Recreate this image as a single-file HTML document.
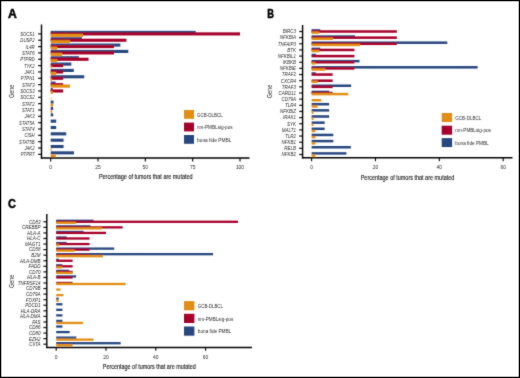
<!DOCTYPE html>
<html><head><meta charset="utf-8"><style>html,body{margin:0;padding:0;background:#fff;}svg{display:block;}text{font-family:"Liberation Sans",sans-serif;}</style></head><body>
<svg width="520" height="378" viewBox="0 0 520 378" font-family="Liberation Sans, sans-serif">
<defs><filter id="sb" x="0" y="0" width="520" height="378" filterUnits="userSpaceOnUse"><feConvolveMatrix order="3" kernelMatrix="1 3 1 3 24 3 1 3 1" preserveAlpha="false" edgeMode="duplicate"/></filter></defs>
<rect x="0" y="0" width="520" height="378" fill="#fff"/>
<g filter="url(#sb)">
<style>text{stroke:#2a2a2a;stroke-width:0px;}</style>
<rect x="50.7" y="30.85" width="145" height="3.1" fill="#27467F"/>
<rect x="50.7" y="32.35" width="189.3" height="3.1" fill="#A6062C"/>
<rect x="50.7" y="33.85" width="32.18" height="3.1" fill="#E28E14"/>
<line x1="38.1" y1="33.9" x2="41.5" y2="33.9" stroke="#1a1a1a" stroke-width="1.25"/>
<text x="34.6" y="35.84" font-size="5.4" font-style="italic" text-anchor="end" textLength="14.46" lengthAdjust="spacingAndGlyphs" fill="#2a2a2a">SOCS1</text>
<rect x="50.7" y="37.19" width="31.23" height="3.1" fill="#27467F"/>
<rect x="50.7" y="38.69" width="75.72" height="3.1" fill="#A6062C"/>
<rect x="50.7" y="40.19" width="19.31" height="3.1" fill="#E28E14"/>
<line x1="38.1" y1="40.24" x2="41.5" y2="40.24" stroke="#1a1a1a" stroke-width="1.25"/>
<text x="34.6" y="42.18" font-size="5.4" font-style="italic" text-anchor="end" textLength="14.23" lengthAdjust="spacingAndGlyphs" fill="#2a2a2a">DUSP2</text>
<rect x="50.7" y="43.53" width="69.66" height="3.1" fill="#27467F"/>
<rect x="50.7" y="45.03" width="63.23" height="3.1" fill="#A6062C"/>
<rect x="50.7" y="46.53" width="6.63" height="3.1" fill="#E28E14"/>
<line x1="38.1" y1="46.58" x2="41.5" y2="46.58" stroke="#1a1a1a" stroke-width="1.25"/>
<text x="34.6" y="48.52" font-size="5.4" font-style="italic" text-anchor="end" textLength="9.01" lengthAdjust="spacingAndGlyphs" fill="#2a2a2a">IL4R</text>
<rect x="50.7" y="49.87" width="77.61" height="3.1" fill="#27467F"/>
<rect x="50.7" y="51.37" width="63.23" height="3.1" fill="#A6062C"/>
<rect x="50.7" y="52.87" width="11.36" height="3.1" fill="#E28E14"/>
<line x1="38.1" y1="52.92" x2="41.5" y2="52.92" stroke="#1a1a1a" stroke-width="1.25"/>
<text x="34.6" y="54.86" font-size="5.4" font-style="italic" text-anchor="end" textLength="12.64" lengthAdjust="spacingAndGlyphs" fill="#2a2a2a">STAT6</text>
<rect x="50.7" y="56.21" width="28.21" height="3.1" fill="#27467F"/>
<rect x="50.7" y="57.71" width="37.86" height="3.1" fill="#A6062C"/>
<rect x="50.7" y="59.21" width="6.63" height="3.1" fill="#E28E14"/>
<line x1="38.1" y1="59.26" x2="41.5" y2="59.26" stroke="#1a1a1a" stroke-width="1.25"/>
<text x="34.6" y="61.2" font-size="5.4" font-style="italic" text-anchor="end" textLength="14.46" lengthAdjust="spacingAndGlyphs" fill="#2a2a2a">PTPRD</text>
<rect x="50.7" y="62.55" width="20.63" height="3.1" fill="#27467F"/>
<rect x="50.7" y="64.05" width="12.49" height="3.1" fill="#A6062C"/>
<rect x="50.7" y="65.55" width="1.14" height="3.1" fill="#E28E14"/>
<line x1="38.1" y1="65.6" x2="41.5" y2="65.6" stroke="#1a1a1a" stroke-width="1.25"/>
<text x="34.6" y="67.54" font-size="5.4" font-style="italic" text-anchor="end" textLength="10.67" lengthAdjust="spacingAndGlyphs" fill="#2a2a2a">TYK2</text>
<rect x="50.7" y="68.89" width="23.09" height="3.1" fill="#27467F"/>
<rect x="50.7" y="70.39" width="12.49" height="3.1" fill="#A6062C"/>
<rect x="50.7" y="71.89" width="5.49" height="3.1" fill="#E28E14"/>
<line x1="38.1" y1="71.94" x2="41.5" y2="71.94" stroke="#1a1a1a" stroke-width="1.25"/>
<text x="34.6" y="73.88" font-size="5.4" font-style="italic" text-anchor="end" textLength="10.2" lengthAdjust="spacingAndGlyphs" fill="#2a2a2a">JAK1</text>
<rect x="50.7" y="75.23" width="33.51" height="3.1" fill="#27467F"/>
<rect x="50.7" y="76.73" width="12.49" height="3.1" fill="#A6062C"/>
<rect x="50.7" y="78.23" width="1.14" height="3.1" fill="#E28E14"/>
<line x1="38.1" y1="78.28" x2="41.5" y2="78.28" stroke="#1a1a1a" stroke-width="1.25"/>
<text x="34.6" y="80.22" font-size="5.4" font-style="italic" text-anchor="end" textLength="13.75" lengthAdjust="spacingAndGlyphs" fill="#2a2a2a">PTPN1</text>
<rect x="50.7" y="81.57" width="4.92" height="3.1" fill="#27467F"/>
<rect x="50.7" y="83.07" width="12.49" height="3.1" fill="#A6062C"/>
<rect x="50.7" y="84.57" width="19.31" height="3.1" fill="#E28E14"/>
<line x1="38.1" y1="84.62" x2="41.5" y2="84.62" stroke="#1a1a1a" stroke-width="1.25"/>
<text x="34.6" y="86.56" font-size="5.4" font-style="italic" text-anchor="end" textLength="12.64" lengthAdjust="spacingAndGlyphs" fill="#2a2a2a">STAT3</text>
<rect x="50.7" y="87.91" width="2.08" height="3.1" fill="#27467F"/>
<rect x="50.7" y="89.41" width="12.49" height="3.1" fill="#A6062C"/>
<rect x="50.7" y="90.91" width="2.08" height="3.1" fill="#E28E14"/>
<line x1="38.1" y1="90.96" x2="41.5" y2="90.96" stroke="#1a1a1a" stroke-width="1.25"/>
<text x="34.6" y="92.9" font-size="5.4" font-style="italic" text-anchor="end" textLength="14.46" lengthAdjust="spacingAndGlyphs" fill="#2a2a2a">SOCS3</text>
<rect x="50.7" y="97.25" width="0.57" height="3.1" fill="#E28E14"/>
<line x1="38.1" y1="97.3" x2="41.5" y2="97.3" stroke="#1a1a1a" stroke-width="1.25"/>
<text x="34.6" y="99.24" font-size="5.4" font-style="italic" text-anchor="end" textLength="14.46" lengthAdjust="spacingAndGlyphs" fill="#2a2a2a">SOCS2</text>
<rect x="50.7" y="100.59" width="2.84" height="3.1" fill="#27467F"/>
<rect x="50.7" y="103.59" width="2.46" height="3.1" fill="#E28E14"/>
<line x1="38.1" y1="103.64" x2="41.5" y2="103.64" stroke="#1a1a1a" stroke-width="1.25"/>
<text x="34.6" y="105.58" font-size="5.4" font-style="italic" text-anchor="end" textLength="12.64" lengthAdjust="spacingAndGlyphs" fill="#2a2a2a">STAT2</text>
<rect x="50.7" y="106.93" width="2.46" height="3.1" fill="#27467F"/>
<rect x="50.7" y="109.93" width="1.33" height="3.1" fill="#E28E14"/>
<line x1="38.1" y1="109.98" x2="41.5" y2="109.98" stroke="#1a1a1a" stroke-width="1.25"/>
<text x="34.6" y="111.92" font-size="5.4" font-style="italic" text-anchor="end" textLength="12.64" lengthAdjust="spacingAndGlyphs" fill="#2a2a2a">STAT1</text>
<rect x="50.7" y="113.27" width="2.46" height="3.1" fill="#27467F"/>
<line x1="38.1" y1="116.32" x2="41.5" y2="116.32" stroke="#1a1a1a" stroke-width="1.25"/>
<text x="34.6" y="118.26" font-size="5.4" font-style="italic" text-anchor="end" textLength="10.2" lengthAdjust="spacingAndGlyphs" fill="#2a2a2a">JAK3</text>
<rect x="50.7" y="119.61" width="5.49" height="3.1" fill="#27467F"/>
<line x1="38.1" y1="122.66" x2="41.5" y2="122.66" stroke="#1a1a1a" stroke-width="1.25"/>
<text x="34.6" y="124.6" font-size="5.4" font-style="italic" text-anchor="end" textLength="15.49" lengthAdjust="spacingAndGlyphs" fill="#2a2a2a">STAT5A</text>
<rect x="50.7" y="125.95" width="5.49" height="3.1" fill="#27467F"/>
<line x1="38.1" y1="129" x2="41.5" y2="129" stroke="#1a1a1a" stroke-width="1.25"/>
<text x="34.6" y="130.94" font-size="5.4" font-style="italic" text-anchor="end" textLength="12.64" lengthAdjust="spacingAndGlyphs" fill="#2a2a2a">STAT4</text>
<rect x="50.7" y="132.29" width="15.52" height="3.1" fill="#27467F"/>
<line x1="38.1" y1="135.34" x2="41.5" y2="135.34" stroke="#1a1a1a" stroke-width="1.25"/>
<text x="34.6" y="137.28" font-size="5.4" font-style="italic" text-anchor="end" textLength="10.19" lengthAdjust="spacingAndGlyphs" fill="#2a2a2a">CISH</text>
<rect x="50.7" y="138.63" width="12.87" height="3.1" fill="#27467F"/>
<line x1="38.1" y1="141.68" x2="41.5" y2="141.68" stroke="#1a1a1a" stroke-width="1.25"/>
<text x="34.6" y="143.62" font-size="5.4" font-style="italic" text-anchor="end" textLength="15.49" lengthAdjust="spacingAndGlyphs" fill="#2a2a2a">STAT5B</text>
<rect x="50.7" y="144.97" width="12.87" height="3.1" fill="#27467F"/>
<rect x="50.7" y="147.97" width="0.95" height="3.1" fill="#E28E14"/>
<line x1="38.1" y1="148.02" x2="41.5" y2="148.02" stroke="#1a1a1a" stroke-width="1.25"/>
<text x="34.6" y="149.96" font-size="5.4" font-style="italic" text-anchor="end" textLength="10.2" lengthAdjust="spacingAndGlyphs" fill="#2a2a2a">JAK2</text>
<rect x="50.7" y="151.31" width="23.28" height="3.1" fill="#27467F"/>
<rect x="50.7" y="154.31" width="4.92" height="3.1" fill="#E28E14"/>
<line x1="38.1" y1="154.36" x2="41.5" y2="154.36" stroke="#1a1a1a" stroke-width="1.25"/>
<text x="34.6" y="156.3" font-size="5.4" font-style="italic" text-anchor="end" textLength="13.91" lengthAdjust="spacingAndGlyphs" fill="#2a2a2a">PTPRT</text>
<line x1="41.5" y1="24.5" x2="41.5" y2="158.6" stroke="#000" stroke-width="1.4"/>
<line x1="40.8" y1="158" x2="249.5" y2="158" stroke="#000" stroke-width="1.5"/>
<line x1="50.7" y1="158" x2="50.7" y2="161.4" stroke="#000" stroke-width="1.1"/>
<text x="50.7" y="169" font-size="5.5" text-anchor="middle" textLength="2.75" lengthAdjust="spacingAndGlyphs" fill="#2a2a2a">0</text>
<line x1="98.03" y1="158" x2="98.03" y2="161.4" stroke="#000" stroke-width="1.1"/>
<text x="98.03" y="169" font-size="5.5" text-anchor="middle" textLength="5.49" lengthAdjust="spacingAndGlyphs" fill="#2a2a2a">25</text>
<line x1="145.35" y1="158" x2="145.35" y2="161.4" stroke="#000" stroke-width="1.1"/>
<text x="145.35" y="169" font-size="5.5" text-anchor="middle" textLength="5.49" lengthAdjust="spacingAndGlyphs" fill="#2a2a2a">50</text>
<line x1="192.68" y1="158" x2="192.68" y2="161.4" stroke="#000" stroke-width="1.1"/>
<text x="192.68" y="169" font-size="5.5" text-anchor="middle" textLength="5.49" lengthAdjust="spacingAndGlyphs" fill="#2a2a2a">75</text>
<line x1="240" y1="158" x2="240" y2="161.4" stroke="#000" stroke-width="1.1"/>
<text x="240" y="169" font-size="5.5" text-anchor="middle" textLength="8.24" lengthAdjust="spacingAndGlyphs" fill="#2a2a2a">100</text>
<text x="98.9" y="179" font-size="7.2" textLength="93.7" lengthAdjust="spacingAndGlyphs" fill="#222" style="stroke:#222;stroke-width:0.15px">Percentage of tumors that are mutated</text>
<text transform="translate(13.8,91.3) rotate(-90)" font-size="7.6" text-anchor="middle" textLength="13.3" lengthAdjust="spacingAndGlyphs" fill="#2a2a2a">Gene</text>
<rect x="184" y="110" width="10" height="8.8" fill="#E28E14"/>
<text x="197" y="116.5" font-size="6.0" textLength="25.7" lengthAdjust="spacingAndGlyphs" fill="#2a2a2a">GCB-DLBCL</text>
<rect x="184" y="122.6" width="10" height="8.8" fill="#A6062C"/>
<text x="197" y="129.1" font-size="6.0" textLength="35.6" lengthAdjust="spacingAndGlyphs" fill="#2a2a2a">nm-PMBLsig-pos</text>
<rect x="184" y="135" width="10" height="8.8" fill="#27467F"/>
<text x="197" y="141.5" font-size="6.0" textLength="34.4" lengthAdjust="spacingAndGlyphs" fill="#2a2a2a">bona fide PMBL</text>
<text x="8.05" y="17.9" font-size="12.3" font-weight="bold" fill="#000" textLength="8.8" lengthAdjust="spacingAndGlyphs" style="stroke:#000;stroke-width:0.5px">A</text>
<rect x="311.6" y="29.15" width="8.62" height="2.5" fill="#27467F"/>
<rect x="311.6" y="30.25" width="85.25" height="2.5" fill="#A6062C"/>
<rect x="311.6" y="31.35" width="7.66" height="2.5" fill="#E28E14"/>
<line x1="299.2" y1="31.5" x2="302.6" y2="31.5" stroke="#1a1a1a" stroke-width="1.25"/>
<text x="296" y="33.3" font-size="5.0" font-style="italic" text-anchor="end" textLength="13.25" lengthAdjust="spacingAndGlyphs" fill="#2a2a2a">BIRC3</text>
<rect x="311.6" y="35.3" width="43.42" height="2.5" fill="#27467F"/>
<rect x="311.6" y="36.4" width="85.25" height="2.5" fill="#A6062C"/>
<rect x="311.6" y="37.5" width="21.39" height="2.5" fill="#E28E14"/>
<line x1="299.2" y1="37.65" x2="302.6" y2="37.65" stroke="#1a1a1a" stroke-width="1.25"/>
<text x="296" y="39.45" font-size="5.0" font-style="italic" text-anchor="end" textLength="16.25" lengthAdjust="spacingAndGlyphs" fill="#2a2a2a">NFKBIA</text>
<rect x="311.6" y="41.45" width="135.7" height="2.5" fill="#27467F"/>
<rect x="311.6" y="42.55" width="85.25" height="2.5" fill="#A6062C"/>
<rect x="311.6" y="43.65" width="48.53" height="2.5" fill="#E28E14"/>
<line x1="299.2" y1="43.8" x2="302.6" y2="43.8" stroke="#1a1a1a" stroke-width="1.25"/>
<text x="296" y="45.6" font-size="5.0" font-style="italic" text-anchor="end" textLength="18.17" lengthAdjust="spacingAndGlyphs" fill="#2a2a2a">TNFAIP3</text>
<rect x="311.6" y="47.6" width="8.62" height="2.5" fill="#27467F"/>
<rect x="311.6" y="48.7" width="42.79" height="2.5" fill="#A6062C"/>
<rect x="311.6" y="49.8" width="7.66" height="2.5" fill="#E28E14"/>
<line x1="299.2" y1="49.95" x2="302.6" y2="49.95" stroke="#1a1a1a" stroke-width="1.25"/>
<text x="296" y="51.75" font-size="5.0" font-style="italic" text-anchor="end" textLength="8.75" lengthAdjust="spacingAndGlyphs" fill="#2a2a2a">BTK</text>
<rect x="311.6" y="53.75" width="4.47" height="2.5" fill="#27467F"/>
<rect x="311.6" y="54.85" width="42.79" height="2.5" fill="#A6062C"/>
<line x1="299.2" y1="56.1" x2="302.6" y2="56.1" stroke="#1a1a1a" stroke-width="1.25"/>
<text x="296" y="57.9" font-size="5.0" font-style="italic" text-anchor="end" textLength="18.26" lengthAdjust="spacingAndGlyphs" fill="#2a2a2a">NFKBIL1</text>
<rect x="311.6" y="59.9" width="47.9" height="2.5" fill="#27467F"/>
<rect x="311.6" y="61" width="42.79" height="2.5" fill="#A6062C"/>
<rect x="311.6" y="62.1" width="3.83" height="2.5" fill="#E28E14"/>
<line x1="299.2" y1="62.25" x2="302.6" y2="62.25" stroke="#1a1a1a" stroke-width="1.25"/>
<text x="296" y="64.05" font-size="5.0" font-style="italic" text-anchor="end" textLength="13.26" lengthAdjust="spacingAndGlyphs" fill="#2a2a2a">IKBKB</text>
<rect x="311.6" y="66.05" width="166.04" height="2.5" fill="#27467F"/>
<rect x="311.6" y="67.15" width="42.79" height="2.5" fill="#A6062C"/>
<rect x="311.6" y="68.25" width="13.73" height="2.5" fill="#E28E14"/>
<line x1="299.2" y1="68.4" x2="302.6" y2="68.4" stroke="#1a1a1a" stroke-width="1.25"/>
<text x="296" y="70.2" font-size="5.0" font-style="italic" text-anchor="end" textLength="16.25" lengthAdjust="spacingAndGlyphs" fill="#2a2a2a">NFKBIE</text>
<rect x="311.6" y="72.2" width="4.15" height="2.5" fill="#27467F"/>
<rect x="311.6" y="73.3" width="21.07" height="2.5" fill="#A6062C"/>
<line x1="299.2" y1="74.55" x2="302.6" y2="74.55" stroke="#1a1a1a" stroke-width="1.25"/>
<text x="296" y="76.35" font-size="5.0" font-style="italic" text-anchor="end" textLength="14.25" lengthAdjust="spacingAndGlyphs" fill="#2a2a2a">TRAF2</text>
<rect x="311.6" y="79.45" width="21.07" height="2.5" fill="#A6062C"/>
<rect x="311.6" y="80.55" width="6.07" height="2.5" fill="#E28E14"/>
<line x1="299.2" y1="80.7" x2="302.6" y2="80.7" stroke="#1a1a1a" stroke-width="1.25"/>
<text x="296" y="82.5" font-size="5.0" font-style="italic" text-anchor="end" textLength="15.25" lengthAdjust="spacingAndGlyphs" fill="#2a2a2a">CXCR4</text>
<rect x="311.6" y="84.5" width="39.59" height="2.5" fill="#27467F"/>
<rect x="311.6" y="85.6" width="21.07" height="2.5" fill="#A6062C"/>
<line x1="299.2" y1="86.85" x2="302.6" y2="86.85" stroke="#1a1a1a" stroke-width="1.25"/>
<text x="296" y="88.65" font-size="5.0" font-style="italic" text-anchor="end" textLength="14.25" lengthAdjust="spacingAndGlyphs" fill="#2a2a2a">TRAF3</text>
<rect x="311.6" y="90.65" width="17.56" height="2.5" fill="#27467F"/>
<rect x="311.6" y="91.75" width="21.07" height="2.5" fill="#A6062C"/>
<rect x="311.6" y="92.85" width="36.72" height="2.5" fill="#E28E14"/>
<line x1="299.2" y1="93" x2="302.6" y2="93" stroke="#1a1a1a" stroke-width="1.25"/>
<text x="296" y="94.8" font-size="5.0" font-style="italic" text-anchor="end" textLength="17.42" lengthAdjust="spacingAndGlyphs" fill="#2a2a2a">CARD11</text>
<rect x="311.6" y="99" width="9.58" height="2.5" fill="#E28E14"/>
<line x1="299.2" y1="99.15" x2="302.6" y2="99.15" stroke="#1a1a1a" stroke-width="1.25"/>
<text x="296" y="100.95" font-size="5.0" font-style="italic" text-anchor="end" textLength="14.51" lengthAdjust="spacingAndGlyphs" fill="#2a2a2a">CD79A</text>
<rect x="311.6" y="102.95" width="17.56" height="2.5" fill="#27467F"/>
<rect x="311.6" y="105.15" width="6.07" height="2.5" fill="#E28E14"/>
<line x1="299.2" y1="105.3" x2="302.6" y2="105.3" stroke="#1a1a1a" stroke-width="1.25"/>
<text x="296" y="107.1" font-size="5.0" font-style="italic" text-anchor="end" textLength="11" lengthAdjust="spacingAndGlyphs" fill="#2a2a2a">TLR4</text>
<rect x="311.6" y="109.1" width="17.56" height="2.5" fill="#27467F"/>
<rect x="311.6" y="111.3" width="1.92" height="2.5" fill="#E28E14"/>
<line x1="299.2" y1="111.45" x2="302.6" y2="111.45" stroke="#1a1a1a" stroke-width="1.25"/>
<text x="296" y="113.25" font-size="5.0" font-style="italic" text-anchor="end" textLength="16" lengthAdjust="spacingAndGlyphs" fill="#2a2a2a">NFKBIZ</text>
<rect x="311.6" y="115.25" width="17.56" height="2.5" fill="#27467F"/>
<rect x="311.6" y="117.45" width="1.92" height="2.5" fill="#E28E14"/>
<line x1="299.2" y1="117.6" x2="302.6" y2="117.6" stroke="#1a1a1a" stroke-width="1.25"/>
<text x="296" y="119.4" font-size="5.0" font-style="italic" text-anchor="end" textLength="13.01" lengthAdjust="spacingAndGlyphs" fill="#2a2a2a">IRAK1</text>
<rect x="311.6" y="121.4" width="13.09" height="2.5" fill="#27467F"/>
<rect x="311.6" y="123.6" width="1.92" height="2.5" fill="#E28E14"/>
<line x1="299.2" y1="123.75" x2="302.6" y2="123.75" stroke="#1a1a1a" stroke-width="1.25"/>
<text x="296" y="125.55" font-size="5.0" font-style="italic" text-anchor="end" textLength="9" lengthAdjust="spacingAndGlyphs" fill="#2a2a2a">SYK</text>
<rect x="311.6" y="127.55" width="13.09" height="2.5" fill="#27467F"/>
<rect x="311.6" y="129.75" width="3.83" height="2.5" fill="#E28E14"/>
<line x1="299.2" y1="129.9" x2="302.6" y2="129.9" stroke="#1a1a1a" stroke-width="1.25"/>
<text x="296" y="131.7" font-size="5.0" font-style="italic" text-anchor="end" textLength="14.17" lengthAdjust="spacingAndGlyphs" fill="#2a2a2a">MALT1</text>
<rect x="311.6" y="133.7" width="21.71" height="2.5" fill="#27467F"/>
<rect x="311.6" y="135.9" width="3.83" height="2.5" fill="#E28E14"/>
<line x1="299.2" y1="136.05" x2="302.6" y2="136.05" stroke="#1a1a1a" stroke-width="1.25"/>
<text x="296" y="137.85" font-size="5.0" font-style="italic" text-anchor="end" textLength="11" lengthAdjust="spacingAndGlyphs" fill="#2a2a2a">TLR2</text>
<rect x="311.6" y="139.85" width="21.71" height="2.5" fill="#27467F"/>
<rect x="311.6" y="142.05" width="3.83" height="2.5" fill="#E28E14"/>
<line x1="299.2" y1="142.2" x2="302.6" y2="142.2" stroke="#1a1a1a" stroke-width="1.25"/>
<text x="296" y="144" font-size="5.0" font-style="italic" text-anchor="end" textLength="14.5" lengthAdjust="spacingAndGlyphs" fill="#2a2a2a">NFKB1</text>
<rect x="311.6" y="146" width="39.27" height="2.5" fill="#27467F"/>
<line x1="299.2" y1="148.35" x2="302.6" y2="148.35" stroke="#1a1a1a" stroke-width="1.25"/>
<text x="296" y="150.15" font-size="5.0" font-style="italic" text-anchor="end" textLength="11.76" lengthAdjust="spacingAndGlyphs" fill="#2a2a2a">RELB</text>
<rect x="311.6" y="152.15" width="34.8" height="2.5" fill="#27467F"/>
<rect x="311.6" y="154.35" width="3.83" height="2.5" fill="#E28E14"/>
<line x1="299.2" y1="154.5" x2="302.6" y2="154.5" stroke="#1a1a1a" stroke-width="1.25"/>
<text x="296" y="156.3" font-size="5.0" font-style="italic" text-anchor="end" textLength="14.5" lengthAdjust="spacingAndGlyphs" fill="#2a2a2a">NFKB2</text>
<line x1="302.6" y1="25" x2="302.6" y2="158.4" stroke="#000" stroke-width="1.4"/>
<line x1="301.9" y1="157.8" x2="512.5" y2="157.8" stroke="#000" stroke-width="1.5"/>
<line x1="311.6" y1="157.8" x2="311.6" y2="161.2" stroke="#000" stroke-width="1.1"/>
<text x="311.6" y="169" font-size="5.5" text-anchor="middle" textLength="2.75" lengthAdjust="spacingAndGlyphs" fill="#2a2a2a">0</text>
<line x1="375.46" y1="157.8" x2="375.46" y2="161.2" stroke="#000" stroke-width="1.1"/>
<text x="375.46" y="169" font-size="5.5" text-anchor="middle" textLength="5.49" lengthAdjust="spacingAndGlyphs" fill="#2a2a2a">20</text>
<line x1="439.32" y1="157.8" x2="439.32" y2="161.2" stroke="#000" stroke-width="1.1"/>
<text x="439.32" y="169" font-size="5.5" text-anchor="middle" textLength="5.49" lengthAdjust="spacingAndGlyphs" fill="#2a2a2a">40</text>
<line x1="503.18" y1="157.8" x2="503.18" y2="161.2" stroke="#000" stroke-width="1.1"/>
<text x="503.18" y="169" font-size="5.5" text-anchor="middle" textLength="5.49" lengthAdjust="spacingAndGlyphs" fill="#2a2a2a">60</text>
<text x="360.7" y="179.5" font-size="7.2" textLength="93.6" lengthAdjust="spacingAndGlyphs" fill="#222" style="stroke:#222;stroke-width:0.15px">Percentage of tumors that are mutated</text>
<text transform="translate(272.1,91.5) rotate(-90)" font-size="7.6" text-anchor="middle" textLength="13.3" lengthAdjust="spacingAndGlyphs" fill="#2a2a2a">Gene</text>
<rect x="441.7" y="113" width="10.4" height="9" fill="#E28E14"/>
<text x="455.3" y="119.6" font-size="6.0" textLength="26" lengthAdjust="spacingAndGlyphs" fill="#2a2a2a">GCB-DLBCL</text>
<rect x="441.7" y="125.7" width="10.4" height="9" fill="#A6062C"/>
<text x="455.3" y="132.3" font-size="6.0" textLength="35.6" lengthAdjust="spacingAndGlyphs" fill="#2a2a2a">nm-PMBLsig-pos</text>
<rect x="441.7" y="138.1" width="10.4" height="9" fill="#27467F"/>
<text x="455.3" y="144.7" font-size="6.0" textLength="33.4" lengthAdjust="spacingAndGlyphs" fill="#2a2a2a">bona fide PMBL</text>
<text x="267.25" y="17.9" font-size="12.3" font-weight="bold" fill="#000" textLength="6.7" lengthAdjust="spacingAndGlyphs" style="stroke:#000;stroke-width:0.5px">B</text>
<rect x="56.2" y="219.65" width="37.35" height="2.3" fill="#27467F"/>
<rect x="56.2" y="220.65" width="181.77" height="2.3" fill="#A6062C"/>
<rect x="56.2" y="221.65" width="19.67" height="2.3" fill="#E28E14"/>
<line x1="43.4" y1="221.8" x2="46.8" y2="221.8" stroke="#1a1a1a" stroke-width="1.25"/>
<text x="40.6" y="223.67" font-size="5.2" font-style="italic" text-anchor="end" textLength="11.57" lengthAdjust="spacingAndGlyphs" fill="#2a2a2a">CD83</text>
<rect x="56.2" y="225.21" width="34.11" height="2.3" fill="#27467F"/>
<rect x="56.2" y="226.21" width="66.48" height="2.3" fill="#A6062C"/>
<rect x="56.2" y="227.21" width="45.82" height="2.3" fill="#E28E14"/>
<line x1="43.4" y1="227.36" x2="46.8" y2="227.36" stroke="#1a1a1a" stroke-width="1.25"/>
<text x="40.6" y="229.24" font-size="5.2" font-style="italic" text-anchor="end" textLength="18.6" lengthAdjust="spacingAndGlyphs" fill="#2a2a2a">CREBBP</text>
<rect x="56.2" y="230.78" width="27.39" height="2.3" fill="#27467F"/>
<rect x="56.2" y="231.78" width="49.8" height="2.3" fill="#A6062C"/>
<line x1="43.4" y1="232.93" x2="46.8" y2="232.93" stroke="#1a1a1a" stroke-width="1.25"/>
<text x="40.6" y="234.8" font-size="5.2" font-style="italic" text-anchor="end" textLength="13.32" lengthAdjust="spacingAndGlyphs" fill="#2a2a2a">HLA-A</text>
<rect x="56.2" y="236.34" width="10.46" height="2.3" fill="#27467F"/>
<rect x="56.2" y="237.34" width="33.37" height="2.3" fill="#A6062C"/>
<line x1="43.4" y1="238.49" x2="46.8" y2="238.49" stroke="#1a1a1a" stroke-width="1.25"/>
<text x="40.6" y="240.36" font-size="5.2" font-style="italic" text-anchor="end" textLength="13.57" lengthAdjust="spacingAndGlyphs" fill="#2a2a2a">HLA-C</text>
<rect x="56.2" y="241.91" width="10.46" height="2.3" fill="#27467F"/>
<rect x="56.2" y="242.91" width="33.37" height="2.3" fill="#A6062C"/>
<rect x="56.2" y="243.91" width="2.99" height="2.3" fill="#E28E14"/>
<line x1="43.4" y1="244.06" x2="46.8" y2="244.06" stroke="#1a1a1a" stroke-width="1.25"/>
<text x="40.6" y="245.93" font-size="5.2" font-style="italic" text-anchor="end" textLength="15.58" lengthAdjust="spacingAndGlyphs" fill="#2a2a2a">MAGT1</text>
<rect x="56.2" y="247.47" width="58.02" height="2.3" fill="#27467F"/>
<rect x="56.2" y="248.47" width="33.37" height="2.3" fill="#A6062C"/>
<rect x="56.2" y="249.47" width="18.43" height="2.3" fill="#E28E14"/>
<line x1="43.4" y1="249.62" x2="46.8" y2="249.62" stroke="#1a1a1a" stroke-width="1.25"/>
<text x="40.6" y="251.49" font-size="5.2" font-style="italic" text-anchor="end" textLength="11.57" lengthAdjust="spacingAndGlyphs" fill="#2a2a2a">CD58</text>
<rect x="56.2" y="253.03" width="156.87" height="2.3" fill="#27467F"/>
<rect x="56.2" y="254.03" width="33.37" height="2.3" fill="#A6062C"/>
<rect x="56.2" y="255.03" width="46.81" height="2.3" fill="#E28E14"/>
<line x1="43.4" y1="255.18" x2="46.8" y2="255.18" stroke="#1a1a1a" stroke-width="1.25"/>
<text x="40.6" y="257.06" font-size="5.2" font-style="italic" text-anchor="end" textLength="9.3" lengthAdjust="spacingAndGlyphs" fill="#2a2a2a">B2M</text>
<rect x="56.2" y="258.6" width="2.49" height="2.3" fill="#27467F"/>
<rect x="56.2" y="259.6" width="16.43" height="2.3" fill="#A6062C"/>
<line x1="43.4" y1="260.75" x2="46.8" y2="260.75" stroke="#1a1a1a" stroke-width="1.25"/>
<text x="40.6" y="262.62" font-size="5.2" font-style="italic" text-anchor="end" textLength="20.36" lengthAdjust="spacingAndGlyphs" fill="#2a2a2a">HLA-DMB</text>
<rect x="56.2" y="264.16" width="6.23" height="2.3" fill="#27467F"/>
<rect x="56.2" y="265.16" width="16.43" height="2.3" fill="#A6062C"/>
<rect x="56.2" y="266.16" width="5.73" height="2.3" fill="#E28E14"/>
<line x1="43.4" y1="266.31" x2="46.8" y2="266.31" stroke="#1a1a1a" stroke-width="1.25"/>
<text x="40.6" y="268.18" font-size="5.2" font-style="italic" text-anchor="end" textLength="11.98" lengthAdjust="spacingAndGlyphs" fill="#2a2a2a">FADD</text>
<rect x="56.2" y="269.73" width="12.95" height="2.3" fill="#27467F"/>
<rect x="56.2" y="270.73" width="16.43" height="2.3" fill="#A6062C"/>
<rect x="56.2" y="271.73" width="16.43" height="2.3" fill="#E28E14"/>
<line x1="43.4" y1="271.88" x2="46.8" y2="271.88" stroke="#1a1a1a" stroke-width="1.25"/>
<text x="40.6" y="273.75" font-size="5.2" font-style="italic" text-anchor="end" textLength="11.57" lengthAdjust="spacingAndGlyphs" fill="#2a2a2a">CD70</text>
<rect x="56.2" y="275.29" width="19.92" height="2.3" fill="#27467F"/>
<rect x="56.2" y="276.29" width="16.43" height="2.3" fill="#A6062C"/>
<line x1="43.4" y1="277.44" x2="46.8" y2="277.44" stroke="#1a1a1a" stroke-width="1.25"/>
<text x="40.6" y="279.31" font-size="5.2" font-style="italic" text-anchor="end" textLength="13.32" lengthAdjust="spacingAndGlyphs" fill="#2a2a2a">HLA-B</text>
<rect x="56.2" y="281.85" width="16.43" height="2.3" fill="#A6062C"/>
<rect x="56.2" y="282.85" width="69.47" height="2.3" fill="#E28E14"/>
<line x1="43.4" y1="283" x2="46.8" y2="283" stroke="#1a1a1a" stroke-width="1.25"/>
<text x="40.6" y="284.88" font-size="5.2" font-style="italic" text-anchor="end" textLength="22.87" lengthAdjust="spacingAndGlyphs" fill="#2a2a2a">TNFRSF14</text>
<rect x="56.2" y="288.42" width="4.23" height="2.3" fill="#E28E14"/>
<line x1="43.4" y1="288.57" x2="46.8" y2="288.57" stroke="#1a1a1a" stroke-width="1.25"/>
<text x="40.6" y="290.44" font-size="5.2" font-style="italic" text-anchor="end" textLength="14.58" lengthAdjust="spacingAndGlyphs" fill="#2a2a2a">CD79B</text>
<rect x="56.2" y="293.98" width="7.22" height="2.3" fill="#E28E14"/>
<line x1="43.4" y1="294.13" x2="46.8" y2="294.13" stroke="#1a1a1a" stroke-width="1.25"/>
<text x="40.6" y="296" font-size="5.2" font-style="italic" text-anchor="end" textLength="14.58" lengthAdjust="spacingAndGlyphs" fill="#2a2a2a">CD79A</text>
<rect x="56.2" y="297.55" width="2.49" height="2.3" fill="#27467F"/>
<rect x="56.2" y="299.55" width="2.49" height="2.3" fill="#E28E14"/>
<line x1="43.4" y1="299.7" x2="46.8" y2="299.7" stroke="#1a1a1a" stroke-width="1.25"/>
<text x="40.6" y="301.57" font-size="5.2" font-style="italic" text-anchor="end" textLength="14.83" lengthAdjust="spacingAndGlyphs" fill="#2a2a2a">FOXP1</text>
<rect x="56.2" y="303.11" width="6.23" height="2.3" fill="#27467F"/>
<line x1="43.4" y1="305.26" x2="46.8" y2="305.26" stroke="#1a1a1a" stroke-width="1.25"/>
<text x="40.6" y="307.13" font-size="5.2" font-style="italic" text-anchor="end" textLength="15.33" lengthAdjust="spacingAndGlyphs" fill="#2a2a2a">PDCD1</text>
<rect x="56.2" y="308.67" width="6.23" height="2.3" fill="#27467F"/>
<line x1="43.4" y1="310.82" x2="46.8" y2="310.82" stroke="#1a1a1a" stroke-width="1.25"/>
<text x="40.6" y="312.7" font-size="5.2" font-style="italic" text-anchor="end" textLength="19.86" lengthAdjust="spacingAndGlyphs" fill="#2a2a2a">HLA-DRA</text>
<rect x="56.2" y="314.24" width="6.23" height="2.3" fill="#27467F"/>
<line x1="43.4" y1="316.39" x2="46.8" y2="316.39" stroke="#1a1a1a" stroke-width="1.25"/>
<text x="40.6" y="318.26" font-size="5.2" font-style="italic" text-anchor="end" textLength="20.36" lengthAdjust="spacingAndGlyphs" fill="#2a2a2a">HLA-DMA</text>
<rect x="56.2" y="319.8" width="6.23" height="2.3" fill="#27467F"/>
<rect x="56.2" y="321.8" width="26.89" height="2.3" fill="#E28E14"/>
<line x1="43.4" y1="321.95" x2="46.8" y2="321.95" stroke="#1a1a1a" stroke-width="1.25"/>
<text x="40.6" y="323.82" font-size="5.2" font-style="italic" text-anchor="end" textLength="8.46" lengthAdjust="spacingAndGlyphs" fill="#2a2a2a">FAS</text>
<rect x="56.2" y="325.37" width="6.23" height="2.3" fill="#27467F"/>
<line x1="43.4" y1="327.52" x2="46.8" y2="327.52" stroke="#1a1a1a" stroke-width="1.25"/>
<text x="40.6" y="329.39" font-size="5.2" font-style="italic" text-anchor="end" textLength="11.57" lengthAdjust="spacingAndGlyphs" fill="#2a2a2a">CD86</text>
<rect x="56.2" y="330.93" width="13.45" height="2.3" fill="#27467F"/>
<line x1="43.4" y1="333.08" x2="46.8" y2="333.08" stroke="#1a1a1a" stroke-width="1.25"/>
<text x="40.6" y="334.95" font-size="5.2" font-style="italic" text-anchor="end" textLength="11.57" lengthAdjust="spacingAndGlyphs" fill="#2a2a2a">CD80</text>
<rect x="56.2" y="336.49" width="20.17" height="2.3" fill="#27467F"/>
<rect x="56.2" y="338.49" width="37.35" height="2.3" fill="#E28E14"/>
<line x1="43.4" y1="338.64" x2="46.8" y2="338.64" stroke="#1a1a1a" stroke-width="1.25"/>
<text x="40.6" y="340.52" font-size="5.2" font-style="italic" text-anchor="end" textLength="11.56" lengthAdjust="spacingAndGlyphs" fill="#2a2a2a">EZH2</text>
<rect x="56.2" y="342.06" width="64.49" height="2.3" fill="#27467F"/>
<rect x="56.2" y="344.06" width="16.43" height="2.3" fill="#E28E14"/>
<line x1="43.4" y1="344.21" x2="46.8" y2="344.21" stroke="#1a1a1a" stroke-width="1.25"/>
<text x="40.6" y="346.08" font-size="5.2" font-style="italic" text-anchor="end" textLength="11.23" lengthAdjust="spacingAndGlyphs" fill="#2a2a2a">CIITA</text>
<line x1="46.8" y1="214" x2="46.8" y2="348" stroke="#000" stroke-width="1.4"/>
<line x1="46.1" y1="347.4" x2="252" y2="347.4" stroke="#000" stroke-width="1.5"/>
<line x1="56.2" y1="347.4" x2="56.2" y2="350.8" stroke="#000" stroke-width="1.1"/>
<text x="56.2" y="358.6" font-size="5.5" text-anchor="middle" textLength="2.75" lengthAdjust="spacingAndGlyphs" fill="#2a2a2a">0</text>
<line x1="106" y1="347.4" x2="106" y2="350.8" stroke="#000" stroke-width="1.1"/>
<text x="106" y="358.6" font-size="5.5" text-anchor="middle" textLength="5.49" lengthAdjust="spacingAndGlyphs" fill="#2a2a2a">20</text>
<line x1="155.8" y1="347.4" x2="155.8" y2="350.8" stroke="#000" stroke-width="1.1"/>
<text x="155.8" y="358.6" font-size="5.5" text-anchor="middle" textLength="5.49" lengthAdjust="spacingAndGlyphs" fill="#2a2a2a">40</text>
<line x1="205.6" y1="347.4" x2="205.6" y2="350.8" stroke="#000" stroke-width="1.1"/>
<text x="205.6" y="358.6" font-size="5.5" text-anchor="middle" textLength="5.49" lengthAdjust="spacingAndGlyphs" fill="#2a2a2a">60</text>
<text x="102.8" y="369" font-size="7.2" textLength="93.1" lengthAdjust="spacingAndGlyphs" fill="#222" style="stroke:#222;stroke-width:0.15px">Percentage of tumors that are mutated</text>
<text transform="translate(13.5,281.3) rotate(-90)" font-size="7.6" text-anchor="middle" textLength="13.3" lengthAdjust="spacingAndGlyphs" fill="#2a2a2a">Gene</text>
<rect x="184" y="301.1" width="10.4" height="9.2" fill="#E28E14"/>
<text x="197.8" y="307.8" font-size="6.0" textLength="25.2" lengthAdjust="spacingAndGlyphs" fill="#2a2a2a">GCB-DLBCL</text>
<rect x="184" y="313.8" width="10.4" height="9.2" fill="#A6062C"/>
<text x="197.8" y="320.5" font-size="6.0" textLength="35.4" lengthAdjust="spacingAndGlyphs" fill="#2a2a2a">nm-PMBLsig-pos</text>
<rect x="184" y="326.5" width="10.4" height="9.2" fill="#27467F"/>
<text x="197.8" y="333.2" font-size="6.0" textLength="33.4" lengthAdjust="spacingAndGlyphs" fill="#2a2a2a">bona fide PMBL</text>
<text x="8.05" y="207.9" font-size="12.3" font-weight="bold" fill="#000" textLength="7.9" lengthAdjust="spacingAndGlyphs" style="stroke:#000;stroke-width:0.5px">C</text>
</g>
<rect x="0.6" y="0.6" width="518.8" height="376.8" fill="none" stroke="#000" stroke-width="1.3"/>
</svg>
</body></html>
